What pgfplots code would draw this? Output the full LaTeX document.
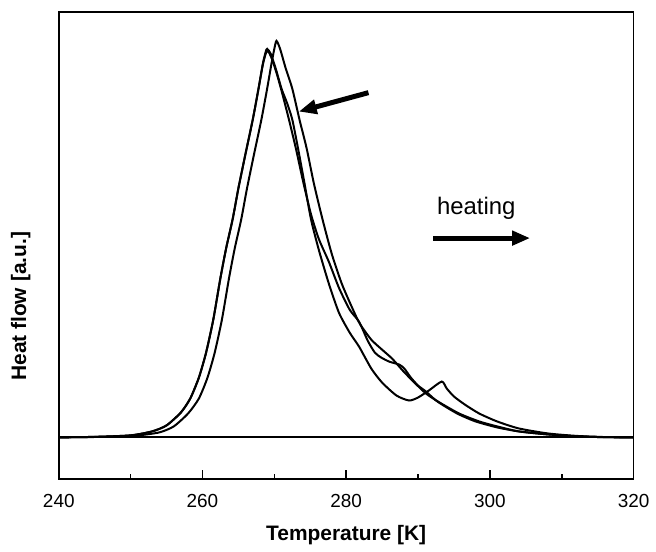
\documentclass[border=0pt]{standalone}
\usepackage{fontspec}
\setmainfont{Liberation Sans}
\usepackage{pgfplots}
\pgfplotsset{compat=1.18}
\usetikzlibrary{arrows.meta}

\begin{document}
\begin{tikzpicture}
\begin{axis}[
  scale only axis, width=288.5pt, height=234.5pt,
  xmin=240, xmax=320, ymin=-42, ymax=427,
  xtick={240,260,280,300,320}, minor xtick={250,270,290,310},
  ytick=\empty, xtick pos=bottom, xtick align=inside,
  major tick length=4.5pt, minor tick length=2.5pt,
  every tick/.style={black, line width=0.8pt},
  axis line style={line width=0.9pt},
  /pgf/number format/assume math mode=true,
  /pgf/number format/1000 sep={},
  ticklabel style={font=\fontsize{9.5}{11}\selectfont},
  xticklabel style={yshift=-4pt},
  xlabel={\textbf{Temperature [K]}},
  ylabel={\textbf{Heat flow [a.u.]}},
  label style={font=\fontsize{10.5}{12}\selectfont},
  xlabel style={yshift=-2pt},
  ylabel style={at={(rel axis cs:-0.066,0.37)}, anchor=center},
  clip=false,
  cycle list={{black}},
  every axis plot/.append style={black, line width=1pt, no markers, smooth, tension=0.4},
]
% baseline
\addplot[black, line width=1pt, sharp plot] coordinates {(240,0) (320,0)};
% curve 1: peak 269, dip and kink near 289-293
\addplot coordinates {
(240,0) (245,0.5) (250,2) (253,6) (255,12) (257,25) (258.3,39) (259.5,60) (260.5,85)
(261.5,118) (262.5,160) (263.3,190) (264.2,219) (265,250) (266,285) (267,319)
(267.8,350) (268.4,375) (268.8,387) (269.0,390) (269.5,385) (270.2,370) (271,350)
(271.8,335) (272.5,319) (273.3,290) (274.2,255) (275.1,219) (276.2,188) (277.6,154)
(279,125) (280.5,105) (281.8,91) (283.5,69) (285,55) (287,42) (288.75,37) (290,40)
(291.5,47) (293.3,56) (294,49) (295,41) (296.5,33) (298.5,24) (301,16) (304,9)
(308,4) (312,1.5) (316,0.3) (320,0)};
% curve 2: peak 269, shoulder near 285-288
\addplot coordinates {
(240,0) (245,0.5) (250,2) (253,6) (255,12) (257,25) (258.3,39) (259.5,60) (260.5,85)
(261.5,118) (262.5,160) (263.3,190) (264.2,219) (265,250) (266,285) (267,319)
(267.8,350) (268.4,374) (268.8,385) (269.1,388) (269.6,381) (270.3,366) (271,348)
(272,320) (273,290) (274,257) (275.1,224) (276.2,199) (277.6,176) (279,150)
(280.5,128) (281.8,116) (283,97) (284,85) (284.9,80) (286,76) (287.4,73) (288.1,69)
(289,60) (290,52) (291.1,46) (292.5,37) (294,30) (295.7,23) (298,16) (301,10)
(304,6) (308,3) (312,1) (316,0.2) (320,0)};
% curve 3: peak 270.3, smooth
\addplot coordinates {
(240,0) (246,0.5) (251,2) (254,5) (256,11) (258,24) (259.5,39) (260.7,60) (261.7,85)
(262.7,118) (263.7,160) (264.5,190) (265.4,219) (266.2,250) (267.2,285) (268.2,319)
(269,350) (269.6,375) (270,390) (270.3,398) (270.8,390) (271.6,370) (272.5,350)
(273.5,319) (274.5,290) (275.5,255) (276.7,219) (278,184) (279.4,154) (280.9,129)
(281.9,114) (283.5,98) (285,88) (286.4,79) (288,66) (289.5,55) (291.1,44) (293,35)
(295.7,24) (298.5,16) (301,11) (304,6) (308,3) (312,1) (316,0.2) (320,0)};
% annotations
\node[font=\fontsize{12}{14}\selectfont] at (axis cs:298.1,230) {heating};
\draw[line width=2.5pt, -{Triangle[length=9pt,width=7pt]}] (axis cs:292.1,200) -- (axis cs:305.6,200);
\draw[line width=2.5pt, -{Triangle[length=9pt,width=7pt]}] (axis cs:283.1,346) -- (axis cs:273.4,327);
% picture extent
\path (axis cs:231.82,-103) rectangle (axis cs:322.77,439);
\end{axis}
\end{tikzpicture}
\end{document}
